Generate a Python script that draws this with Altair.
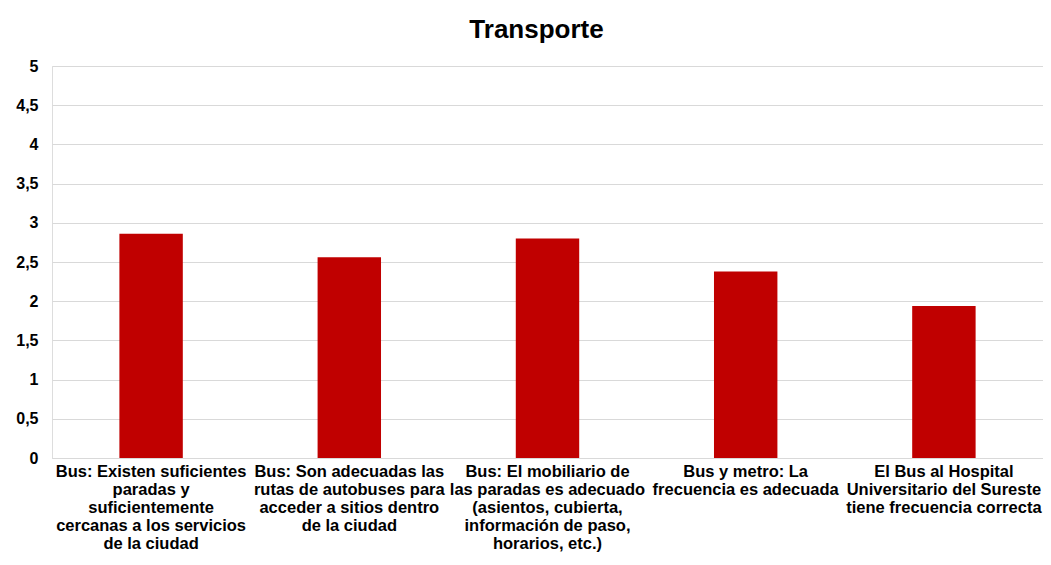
import altair as alt
import pandas as pd

categories = [
    "Bus: Existen suficientes|paradas y|suficientemente|cercanas a los servicios|de la ciudad",
    "Bus: Son adecuadas las|rutas de autobuses para|acceder a sitios dentro|de la ciudad",
    "Bus: El mobiliario de|las paradas es adecuado|(asientos, cubierta,|información de paso,|horarios, etc.)",
    "Bus y metro: La|frecuencia es adecuada",
    "El Bus al Hospital|Universitario del Sureste|tiene frecuencia correcta",
]
values = [2.86, 2.56, 2.80, 2.38, 1.94]
y_ticks = [0, 0.5, 1, 1.5, 2, 2.5, 3, 3.5, 4, 4.5, 5]

df = pd.DataFrame({"cat": categories, "val": values})

chart = (
    alt.Chart(df)
    .mark_bar(color="#C00000")
    .encode(
        x=alt.X(
            "cat:N",
            sort=categories,
            title=None,
            scale=alt.Scale(paddingInner=0.68, paddingOuter=0.34),
            axis=alt.Axis(
                labelAngle=0,
                labelExpr="split(datum.label, '|')",
                labelFont="Liberation Sans",
                labelFontWeight="bold",
                labelFontSize=16.5,
                labelColor="#000000",
                labelLineHeight=18,
                labelLimit=0,
                labelPadding=5,
                labelBaseline="top",
                ticks=False,
                domainColor="#d9d9d9",
                domainWidth=1,
                grid=False,
            ),
        ),
        y=alt.Y(
            "val:Q",
            title=None,
            scale=alt.Scale(domain=[0, 5], nice=False),
            axis=alt.Axis(
                values=y_ticks,
                labelExpr="replace(format(datum.value, ''), '.', ',')",
                labelFont="Liberation Sans",
                labelFontWeight="bold",
                labelFontSize=16,
                labelColor="#000000",
                labelPadding=14,
                ticks=False,
                domain=False,
                gridColor="#d9d9d9",
                gridWidth=1,
            ),
        ),
    )
    .properties(
        width=991,
        height=392,
        title=alt.TitleParams(
            "Transporte",
            font="Liberation Sans",
            fontSize=26,
            fontWeight="bold",
            color="#000000",
            anchor="middle",
            offset=15,
            dx=-11,
        ),
        autosize=alt.AutoSizeParams(type="none"),
        padding={"left": 44, "top": 58, "right": 0, "bottom": 94},
    )
    .configure_view(strokeWidth=0)
    .configure(background="white")
)

chart.save("out.html", embed_options={"renderer": "svg", "actions": False})
